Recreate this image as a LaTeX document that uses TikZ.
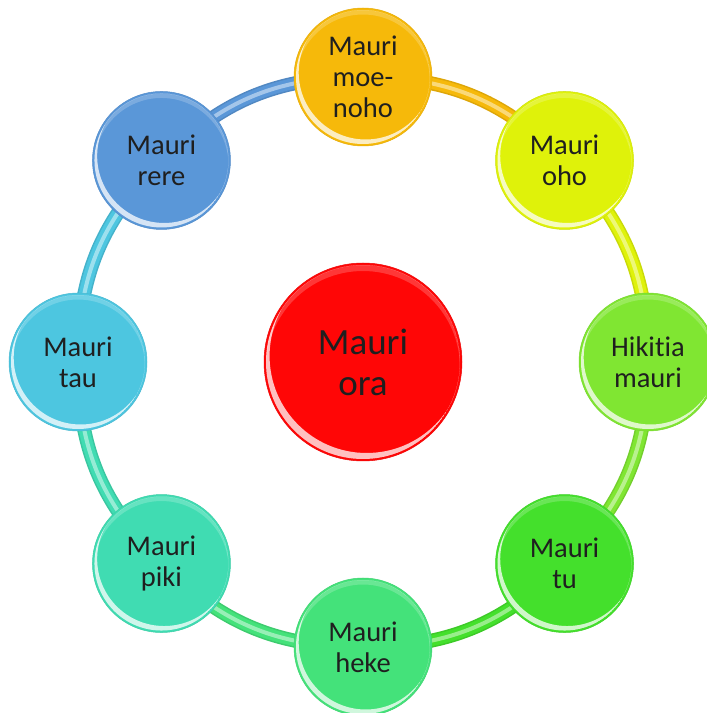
\documentclass[tikz,border=0pt]{standalone}
\usepackage{fontspec}
\setmainfont[RawFeature={-liga}]{Carlito}
\usetikzlibrary{backgrounds,calc}

\definecolor{cMoe}{HTML}{F6B90A}
\definecolor{cOho}{HTML}{DFF20A}
\definecolor{cHik}{HTML}{80E632}
\definecolor{cTu}{HTML}{44E02C}
\definecolor{cHeke}{HTML}{44E27A}
\definecolor{cPiki}{HTML}{40DCB2}
\definecolor{cTau}{HTML}{4DC6E0}
\definecolor{cRere}{HTML}{5A97D8}
\definecolor{cOra}{HTML}{FF0606}

% glossy rim: bright crescent low on the left, soft light band on top
\newcommand\glossy[2]{%
  \begin{scope}
    \clip (path picture bounding box.center) circle (#1-2pt);
    \fill[white, opacity=0.75, even odd rule]
      (path picture bounding box.center) circle (#1-2pt)
      ([shift={(#2*0.6,#2)}]path picture bounding box.center) circle (#1-2pt);
    \fill[white, opacity=0.2, even odd rule]
      (path picture bounding box.center) circle (#1-2pt)
      ([shift={(0,-#2)}]path picture bounding box.center) circle (#1-2pt);
  \end{scope}}

\tikzset{
  bub/.style={circle, minimum size=138pt, inner sep=0pt, align=center,
    font=\fontsize{28.5}{31}\selectfont, text=black!88,
    fill=#1, draw=#1!93!black, line width=0.5pt,
    path picture={\glossy{69pt}{4.5pt}}},
  hub/.style={circle, minimum size=198pt, inner sep=0pt, align=center,
    font=\fontsize{37}{41}\selectfont, text=black!88,
    fill=#1, draw=#1!93!black, line width=0.5pt,
    path picture={\glossy{99pt}{6pt}}},
  tube/.style={line width=14pt, draw=#1!90!black},
  tubecore/.style={line width=11pt, draw=#1},
  tubeshine/.style={line width=4pt, draw=#1!55!white},
}

\begin{document}
\begin{tikzpicture}[x=1pt, y=1pt]
  \useasboundingbox (0,0) rectangle (707,713);
  \coordinate (C) at (363,351);

  \node[hub=cOra] (ora) at (C) {Mauri\\ora};

  \node[bub=cMoe]  (moe)  at ([shift={(90:285)}]C)   {Mauri\\moe-\\noho};
  \node[bub=cOho]  (oho)  at ([shift={(45:285)}]C)   {Mauri\\oho};
  \node[bub=cHik]  (hik)  at ([shift={(0:285)}]C)    {Hikitia\\mauri};
  \node[bub=cTu]   (tu)   at ([shift={(-45:285)}]C)  {Mauri\\tu};
  \node[bub=cHeke] (heke) at ([shift={(-90:285)}]C)  {Mauri\\heke};
  \node[bub=cPiki] (piki) at ([shift={(-135:285)}]C) {Mauri\\piki};
  \node[bub=cTau]  (tau)  at ([shift={(180:285)}]C)  {Mauri\\tau};
  \node[bub=cRere] (rere) at ([shift={(135:285)}]C)  {Mauri\\rere};

  % the ring, running clockwise behind the bubbles
  \begin{scope}[on background layer]
    \foreach \a/\b/\c in {rere/moe/cRere, moe/oho/cMoe, oho/hik/cOho,
                          hik/tu/cHik, tu/heke/cTu, heke/piki/cHeke,
                          piki/tau/cPiki, tau/rere/cTau}{
      \draw[tube=\c] (\a.center) to[bend left=22.5] (\b.center);
      \draw[tubecore=\c] (\a.center) to[bend left=22.5] (\b.center);
      \draw[tubeshine=\c] (\a.center) to[bend left=22.5] (\b.center);
    }
  \end{scope}
\end{tikzpicture}
\end{document}
